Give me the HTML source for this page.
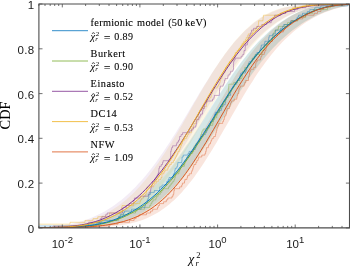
<!DOCTYPE html>
<html><head><meta charset="utf-8"><title>CDF</title><style>html,body{margin:0;padding:0;background:#fff}svg{display:block;will-change:transform}</style></head><body>
<svg width="350" height="266" viewBox="0 0 350 266">
<rect width="350" height="266" fill="#fff"/>
<clipPath id="c"><rect x="38.9" y="4.0" width="310.6" height="223.9"/></clipPath>
<g clip-path="url(#c)">
<path d="M14.1,227.9 17.0,227.9 19.8,227.8 22.7,227.8 25.5,227.8 28.4,227.8 31.2,227.8 34.1,227.8 36.9,227.7 39.8,227.7 42.6,227.7 45.5,227.6 48.3,227.6 51.1,227.5 54.0,227.5 56.8,227.4 59.6,227.3 62.4,227.2 65.3,227.1 68.1,227.0 70.9,226.9 73.7,226.7 76.5,226.5 79.3,226.3 82.2,226.1 85.0,225.8 87.8,225.5 90.6,225.2 93.4,224.8 96.1,224.4 98.9,223.9 101.7,223.4 104.5,222.8 107.3,222.2 110.1,221.5 112.8,220.7 115.6,219.9 118.4,218.9 121.1,217.9 123.9,216.8 126.6,215.6 129.4,214.3 132.1,212.9 134.9,211.4 137.6,209.8 140.3,208.1 143.1,206.2 145.8,204.2 148.5,202.1 151.2,199.9 153.9,197.5 156.6,195.0 159.3,192.4 162.0,189.6 164.7,186.7 167.4,183.6 170.0,180.5 172.7,177.2 175.4,173.7 178.0,170.2 180.6,166.5 183.3,162.7 185.9,158.8 188.5,154.8 191.2,150.7 193.8,146.6 196.4,142.4 199.0,138.1 201.5,133.7 204.1,129.3 206.7,124.9 209.3,120.4 211.8,116.0 214.4,111.5 216.9,107.0 219.5,102.6 222.0,98.2 224.6,93.8 227.1,89.5 229.6,85.3 232.2,81.2 234.7,77.1 237.2,73.1 239.8,69.2 242.3,65.4 244.8,61.7 247.4,58.2 249.9,54.7 252.5,51.4 255.0,48.3 257.5,45.2 260.0,42.3 262.6,39.5 265.1,36.9 267.6,34.4 270.0,32.0 272.5,29.8 274.9,27.7 277.3,25.7 279.6,23.8 282.0,22.1 284.2,20.5 286.5,19.0 288.7,17.6 290.8,16.3 292.9,15.1 295.0,14.0 297.0,13.0 298.9,12.0 300.8,11.2 302.6,10.4 304.4,9.7 306.1,9.1 307.8,8.5 309.4,8.0 311.0,7.5 312.5,7.1 314.0,6.7 315.5,6.4 317.0,6.1 318.4,5.8 319.8,5.6 321.1,5.4 322.5,5.2 323.8,5.0 325.1,4.9 326.5,4.8 327.8,4.7 329.1,4.6 330.4,4.5 331.7,4.4 332.9,4.4 334.2,4.3 335.5,4.3 336.8,4.2 338.0,4.2 339.3,4.2 340.6,4.1 341.8,4.1 343.1,4.1 344.3,4.1 345.6,4.1 346.8,4.1 348.1,4.0 349.3,4.0 390.5,4.0 388.8,4.0 387.1,4.1 385.5,4.1 383.8,4.1 382.1,4.1 380.4,4.1 378.7,4.1 377.0,4.2 375.4,4.2 373.7,4.2 372.0,4.3 370.3,4.3 368.6,4.4 366.9,4.4 365.2,4.5 363.5,4.6 361.8,4.7 360.1,4.8 358.4,4.9 356.6,5.0 354.9,5.2 353.1,5.4 351.4,5.6 349.6,5.8 347.8,6.1 346.0,6.4 344.2,6.7 342.3,7.1 340.4,7.5 338.4,8.0 336.5,8.5 334.4,9.1 332.4,9.7 330.2,10.4 328.1,11.2 325.8,12.0 323.6,13.0 321.2,14.0 318.9,15.1 316.5,16.3 314.0,17.6 311.5,19.0 309.0,20.5 306.4,22.1 303.8,23.8 301.1,25.7 298.5,27.7 295.8,29.8 293.1,32.0 290.4,34.4 287.7,36.9 284.9,39.5 282.2,42.3 279.5,45.2 276.7,48.3 274.0,51.4 271.3,54.7 268.6,58.2 265.9,61.7 263.2,65.4 260.5,69.2 257.8,73.1 255.2,77.1 252.6,81.2 249.9,85.3 247.3,89.5 244.7,93.8 242.1,98.2 239.5,102.6 237.0,107.0 234.4,111.5 231.8,116.0 229.3,120.4 226.7,124.9 224.2,129.3 221.6,133.7 219.1,138.1 216.6,142.4 214.1,146.6 211.6,150.7 209.0,154.8 206.5,158.8 204.0,162.7 201.5,166.5 199.0,170.2 196.5,173.7 194.1,177.2 191.6,180.5 189.1,183.6 186.6,186.7 184.1,189.6 181.7,192.4 179.2,195.0 176.8,197.5 174.3,199.9 171.8,202.1 169.4,204.2 166.9,206.2 164.5,208.1 162.0,209.8 159.6,211.4 157.1,212.9 154.7,214.3 152.3,215.6 149.8,216.8 147.4,217.9 145.0,218.9 142.5,219.9 140.1,220.7 137.7,221.5 135.2,222.2 132.8,222.8 130.4,223.4 127.9,223.9 125.5,224.4 123.1,224.8 120.7,225.2 118.2,225.5 115.8,225.8 113.4,226.1 111.0,226.3 108.6,226.5 106.1,226.7 103.7,226.9 101.3,227.0 98.9,227.1 96.5,227.2 94.0,227.3 91.6,227.4 89.2,227.5 86.8,227.5 84.4,227.6 81.9,227.6 79.5,227.7 77.1,227.7 74.7,227.7 72.3,227.8 69.8,227.8 67.4,227.8 65.0,227.8 62.6,227.8 60.1,227.8 57.7,227.9 55.3,227.9Z" fill="#D95319" fill-opacity="0.15"/>
<path d="M2.1,227.9 4.6,227.9 7.1,227.8 9.5,227.8 12.0,227.8 14.4,227.8 16.9,227.8 19.3,227.8 21.8,227.7 24.2,227.7 26.6,227.7 29.1,227.6 31.5,227.6 33.9,227.5 36.4,227.5 38.8,227.4 41.2,227.3 43.6,227.2 46.1,227.1 48.5,227.0 50.9,226.9 53.3,226.7 55.8,226.5 58.2,226.3 60.6,226.1 63.1,225.8 65.5,225.5 68.0,225.2 70.5,224.8 72.9,224.4 75.4,223.9 78.0,223.4 80.5,222.8 83.1,222.2 85.6,221.5 88.2,220.7 90.8,219.9 93.5,218.9 96.1,217.9 98.8,216.8 101.5,215.6 104.2,214.3 106.9,212.9 109.6,211.4 112.3,209.8 115.0,208.1 117.7,206.2 120.5,204.2 123.2,202.1 125.9,199.9 128.6,197.5 131.4,195.0 134.1,192.4 136.8,189.6 139.5,186.7 142.2,183.6 144.9,180.5 147.6,177.2 150.3,173.7 152.9,170.2 155.6,166.5 158.3,162.7 160.9,158.8 163.6,154.8 166.2,150.7 168.8,146.6 171.5,142.4 174.1,138.1 176.7,133.7 179.3,129.3 181.9,124.9 184.4,120.4 187.0,116.0 189.6,111.5 192.1,107.0 194.6,102.6 197.2,98.2 199.7,93.8 202.2,89.5 204.7,85.3 207.2,81.2 209.7,77.1 212.2,73.1 214.6,69.2 217.1,65.4 219.5,61.7 222.0,58.2 224.4,54.7 226.8,51.4 229.2,48.3 231.6,45.2 233.9,42.3 236.3,39.5 238.6,36.9 240.9,34.4 243.2,32.0 245.5,29.8 247.8,27.7 250.0,25.7 252.2,23.8 254.3,22.1 256.5,20.5 258.6,19.0 260.6,17.6 262.7,16.3 264.7,15.1 266.7,14.0 268.6,13.0 270.6,12.0 272.5,11.2 274.4,10.4 276.2,9.7 278.1,9.1 279.9,8.5 281.8,8.0 283.6,7.5 285.4,7.1 287.2,6.7 289.0,6.4 290.7,6.1 292.5,5.8 294.3,5.6 296.0,5.4 297.8,5.2 299.5,5.0 301.2,4.9 303.0,4.8 304.7,4.7 306.4,4.6 308.1,4.5 309.9,4.4 311.6,4.4 313.3,4.3 315.0,4.3 316.7,4.2 318.4,4.2 320.1,4.2 321.8,4.1 323.4,4.1 325.1,4.1 326.8,4.1 328.5,4.1 330.1,4.1 331.8,4.0 333.5,4.0 374.2,4.0 372.1,4.0 370.0,4.1 367.9,4.1 365.8,4.1 363.6,4.1 361.5,4.1 359.4,4.1 357.3,4.2 355.2,4.2 353.0,4.2 350.9,4.3 348.8,4.3 346.7,4.4 344.5,4.4 342.4,4.5 340.3,4.6 338.1,4.7 336.0,4.8 333.9,4.9 331.7,5.0 329.6,5.2 327.4,5.4 325.3,5.6 323.1,5.8 321.0,6.1 318.8,6.4 316.6,6.7 314.5,7.1 312.3,7.5 310.1,8.0 307.9,8.5 305.7,9.1 303.5,9.7 301.3,10.4 299.0,11.2 296.8,12.0 294.5,13.0 292.2,14.0 289.9,15.1 287.5,16.3 285.2,17.6 282.8,19.0 280.4,20.5 277.9,22.1 275.5,23.8 273.0,25.7 270.5,27.7 268.0,29.8 265.4,32.0 262.9,34.4 260.3,36.9 257.8,39.5 255.2,42.3 252.6,45.2 250.0,48.3 247.4,51.4 244.8,54.7 242.2,58.2 239.6,61.7 237.0,65.4 234.4,69.2 231.8,73.1 229.2,77.1 226.6,81.2 224.0,85.3 221.4,89.5 218.9,93.8 216.3,98.2 213.7,102.6 211.1,107.0 208.6,111.5 206.0,116.0 203.4,120.4 200.9,124.9 198.3,129.3 195.8,133.7 193.2,138.1 190.7,142.4 188.2,146.6 185.6,150.7 183.1,154.8 180.6,158.8 178.1,162.7 175.5,166.5 173.0,170.2 170.5,173.7 168.0,177.2 165.5,180.5 163.0,183.6 160.5,186.7 158.0,189.6 155.6,192.4 153.1,195.0 150.6,197.5 148.1,199.9 145.7,202.1 143.2,204.2 140.8,206.2 138.3,208.1 135.9,209.8 133.5,211.4 131.1,212.9 128.7,214.3 126.3,215.6 124.0,216.8 121.6,217.9 119.3,218.9 117.0,219.9 114.8,220.7 112.5,221.5 110.3,222.2 108.1,222.8 105.9,223.4 103.8,223.9 101.7,224.4 99.5,224.8 97.5,225.2 95.4,225.5 93.3,225.8 91.3,226.1 89.2,226.3 87.2,226.5 85.2,226.7 83.1,226.9 81.1,227.0 79.1,227.1 77.1,227.2 75.1,227.3 73.1,227.4 71.1,227.5 69.0,227.5 67.0,227.6 65.0,227.6 63.0,227.7 61.0,227.7 59.0,227.7 57.0,227.8 55.0,227.8 52.9,227.8 50.9,227.8 48.9,227.8 46.9,227.8 44.9,227.9 42.8,227.9Z" fill="#EDB120" fill-opacity="0.12"/>
<path d="M-5.5,227.9 -2.9,227.9 -0.2,227.8 2.4,227.8 5.1,227.8 7.7,227.8 10.3,227.8 12.9,227.8 15.5,227.7 18.1,227.7 20.7,227.7 23.2,227.6 25.8,227.6 28.4,227.5 30.9,227.5 33.4,227.4 36.0,227.3 38.5,227.2 41.0,227.1 43.5,227.0 46.0,226.9 48.5,226.7 51.0,226.5 53.5,226.3 55.9,226.1 58.4,225.8 60.9,225.5 63.3,225.2 65.8,224.8 68.3,224.4 70.8,223.9 73.2,223.4 75.7,222.8 78.2,222.2 80.8,221.5 83.3,220.7 85.8,219.9 88.4,218.9 91.0,217.9 93.7,216.8 96.3,215.6 99.0,214.3 101.7,212.9 104.5,211.4 107.3,209.8 110.1,208.1 112.9,206.2 115.7,204.2 118.6,202.1 121.4,199.9 124.3,197.5 127.1,195.0 130.0,192.4 132.9,189.6 135.8,186.7 138.6,183.6 141.5,180.5 144.3,177.2 147.2,173.7 150.0,170.2 152.9,166.5 155.7,162.7 158.5,158.8 161.3,154.8 164.1,150.7 166.8,146.6 169.6,142.4 172.3,138.1 175.1,133.7 177.8,129.3 180.5,124.9 183.2,120.4 185.9,116.0 188.6,111.5 191.2,107.0 193.9,102.6 196.5,98.2 199.1,93.8 201.7,89.5 204.3,85.3 206.9,81.2 209.5,77.1 212.0,73.1 214.5,69.2 217.1,65.4 219.6,61.7 222.1,58.2 224.5,54.7 227.0,51.4 229.4,48.3 231.9,45.2 234.3,42.3 236.7,39.5 239.1,36.9 241.4,34.4 243.7,32.0 246.1,29.8 248.4,27.7 250.6,25.7 252.9,23.8 255.1,22.1 257.3,20.5 259.5,19.0 261.6,17.6 263.7,16.3 265.8,15.1 267.9,14.0 269.9,13.0 271.9,12.0 273.9,11.2 275.9,10.4 277.9,9.7 279.8,9.1 281.7,8.5 283.6,8.0 285.5,7.5 287.4,7.1 289.3,6.7 291.1,6.4 293.0,6.1 294.8,5.8 296.6,5.6 298.4,5.4 300.2,5.2 302.0,5.0 303.8,4.9 305.6,4.8 307.3,4.7 309.1,4.6 310.8,4.5 312.6,4.4 314.3,4.4 316.0,4.3 317.7,4.3 319.4,4.2 321.1,4.2 322.7,4.2 324.4,4.1 326.1,4.1 327.7,4.1 329.3,4.1 331.0,4.1 332.6,4.1 334.2,4.0 335.8,4.0 375.8,4.0 373.8,4.0 371.7,4.1 369.7,4.1 367.6,4.1 365.5,4.1 363.4,4.1 361.3,4.1 359.2,4.2 357.1,4.2 355.0,4.2 352.8,4.3 350.7,4.3 348.6,4.4 346.4,4.4 344.2,4.5 342.1,4.6 339.9,4.7 337.7,4.8 335.5,4.9 333.3,5.0 331.1,5.2 328.9,5.4 326.7,5.6 324.4,5.8 322.2,6.1 319.9,6.4 317.7,6.7 315.4,7.1 313.1,7.5 310.8,8.0 308.5,8.5 306.2,9.1 303.9,9.7 301.6,10.4 299.2,11.2 296.8,12.0 294.4,13.0 292.0,14.0 289.6,15.1 287.2,16.3 284.7,17.6 282.2,19.0 279.7,20.5 277.2,22.1 274.6,23.8 272.0,25.7 269.4,27.7 266.8,29.8 264.2,32.0 261.6,34.4 258.9,36.9 256.3,39.5 253.6,42.3 250.9,45.2 248.3,48.3 245.6,51.4 242.9,54.7 240.2,58.2 237.5,61.7 234.8,65.4 232.1,69.2 229.4,73.1 226.7,77.1 224.0,81.2 221.2,85.3 218.5,89.5 215.8,93.8 213.2,98.2 210.5,102.6 207.8,107.0 205.1,111.5 202.4,116.0 199.7,120.4 197.1,124.9 194.4,129.3 191.7,133.7 189.1,138.1 186.4,142.4 183.8,146.6 181.1,150.7 178.5,154.8 175.8,158.8 173.2,162.7 170.6,166.5 167.9,170.2 165.3,173.7 162.7,177.2 160.1,180.5 157.4,183.6 154.8,186.7 152.2,189.6 149.6,192.4 147.0,195.0 144.5,197.5 141.9,199.9 139.3,202.1 136.8,204.2 134.3,206.2 131.8,208.1 129.3,209.8 126.9,211.4 124.5,212.9 122.1,214.3 119.8,215.6 117.5,216.8 115.2,217.9 113.0,218.9 110.7,219.9 108.6,220.7 106.4,221.5 104.3,222.2 102.2,222.8 100.1,223.4 98.0,223.9 95.9,224.4 93.8,224.8 91.7,225.2 89.7,225.5 87.6,225.8 85.6,226.1 83.5,226.3 81.4,226.5 79.4,226.7 77.3,226.9 75.2,227.0 73.1,227.1 71.0,227.2 69.0,227.3 66.9,227.4 64.7,227.5 62.6,227.5 60.5,227.6 58.4,227.6 56.3,227.7 54.1,227.7 52.0,227.7 49.8,227.8 47.7,227.8 45.5,227.8 43.3,227.8 41.1,227.8 38.9,227.8 36.7,227.9 34.5,227.9Z" fill="#7E2F8E" fill-opacity="0.09"/>
<path d="M10.8,227.9 13.4,227.9 16.1,227.8 18.7,227.8 21.3,227.8 23.9,227.8 26.5,227.8 29.1,227.8 31.7,227.7 34.3,227.7 36.9,227.7 39.4,227.6 42.0,227.6 44.6,227.5 47.1,227.5 49.7,227.4 52.2,227.3 54.8,227.2 57.3,227.1 59.9,227.0 62.4,226.9 64.9,226.7 67.5,226.5 70.0,226.3 72.5,226.1 75.1,225.8 77.6,225.5 80.1,225.2 82.7,224.8 85.2,224.4 87.8,223.9 90.4,223.4 92.9,222.8 95.6,222.2 98.2,221.5 100.8,220.7 103.5,219.9 106.2,218.9 108.9,217.9 111.7,216.8 114.5,215.6 117.3,214.3 120.1,212.9 123.0,211.4 125.9,209.8 128.8,208.1 131.7,206.2 134.6,204.2 137.5,202.1 140.4,199.9 143.4,197.5 146.3,195.0 149.2,192.4 152.2,189.6 155.1,186.7 158.0,183.6 160.9,180.5 163.9,177.2 166.8,173.7 169.7,170.2 172.5,166.5 175.4,162.7 178.3,158.8 181.2,154.8 184.0,150.7 186.8,146.6 189.7,142.4 192.5,138.1 195.3,133.7 198.1,129.3 200.9,124.9 203.7,120.4 206.4,116.0 209.2,111.5 212.0,107.0 214.7,102.6 217.4,98.2 220.2,93.8 222.9,89.5 225.6,85.3 228.3,81.2 231.0,77.1 233.8,73.1 236.5,69.2 239.2,65.4 241.9,61.7 244.6,58.2 247.3,54.7 250.0,51.4 252.7,48.3 255.4,45.2 258.1,42.3 260.8,39.5 263.4,36.9 266.1,34.4 268.7,32.0 271.3,29.8 273.8,27.7 276.3,25.7 278.8,23.8 281.2,22.1 283.6,20.5 285.9,19.0 288.2,17.6 290.4,16.3 292.5,15.1 294.6,14.0 296.6,13.0 298.6,12.0 300.5,11.2 302.3,10.4 304.1,9.7 305.8,9.1 307.4,8.5 309.0,8.0 310.5,7.5 312.0,7.1 313.5,6.7 314.9,6.4 316.3,6.1 317.6,5.8 318.9,5.6 320.2,5.4 321.5,5.2 322.7,5.0 324.0,4.9 325.2,4.8 326.4,4.7 327.6,4.6 328.8,4.5 330.0,4.4 331.1,4.4 332.3,4.3 333.5,4.3 334.6,4.2 335.8,4.2 336.9,4.2 338.0,4.1 339.1,4.1 340.2,4.1 341.4,4.1 342.5,4.1 343.6,4.1 344.6,4.0 345.7,4.0 386.2,4.0 384.7,4.0 383.1,4.1 381.6,4.1 380.1,4.1 378.5,4.1 377.0,4.1 375.4,4.1 373.9,4.2 372.3,4.2 370.7,4.2 369.1,4.3 367.6,4.3 366.0,4.4 364.4,4.4 362.8,4.5 361.2,4.6 359.5,4.7 357.9,4.8 356.3,4.9 354.6,5.0 353.0,5.2 351.3,5.4 349.6,5.6 347.9,5.8 346.2,6.1 344.4,6.4 342.6,6.7 340.8,7.1 338.9,7.5 337.0,8.0 335.0,8.5 333.0,9.1 331.0,9.7 328.8,10.4 326.6,11.2 324.4,12.0 322.1,13.0 319.7,14.0 317.3,15.1 314.8,16.3 312.3,17.6 309.7,19.0 307.1,20.5 304.4,22.1 301.7,23.8 298.9,25.7 296.2,27.7 293.3,29.8 290.5,32.0 287.6,34.4 284.7,36.9 281.8,39.5 278.9,42.3 276.0,45.2 273.1,48.3 270.2,51.4 267.3,54.7 264.4,58.2 261.5,61.7 258.6,65.4 255.8,69.2 252.9,73.1 250.1,77.1 247.3,81.2 244.4,85.3 241.6,89.5 238.8,93.8 236.0,98.2 233.3,102.6 230.5,107.0 227.7,111.5 224.9,116.0 222.2,120.4 219.4,124.9 216.7,129.3 213.9,133.7 211.2,138.1 208.4,142.4 205.7,146.6 202.9,150.7 200.2,154.8 197.5,158.8 194.7,162.7 192.0,166.5 189.3,170.2 186.5,173.7 183.8,177.2 181.1,180.5 178.4,183.6 175.7,186.7 173.0,189.6 170.3,192.4 167.6,195.0 164.9,197.5 162.2,199.9 159.5,202.1 156.9,204.2 154.3,206.2 151.7,208.1 149.1,209.8 146.5,211.4 143.9,212.9 141.4,214.3 138.9,215.6 136.5,216.8 134.1,217.9 131.7,218.9 129.3,219.9 127.0,220.7 124.7,221.5 122.4,222.2 120.2,222.8 118.0,223.4 115.8,223.9 113.6,224.4 111.4,224.8 109.3,225.2 107.1,225.5 105.0,225.8 102.8,226.1 100.7,226.3 98.6,226.5 96.4,226.7 94.3,226.9 92.2,227.0 90.1,227.1 87.9,227.2 85.8,227.3 83.7,227.4 81.5,227.5 79.4,227.5 77.3,227.6 75.1,227.6 73.0,227.7 70.8,227.7 68.7,227.7 66.5,227.8 64.3,227.8 62.2,227.8 60.0,227.8 57.8,227.8 55.7,227.8 53.5,227.9 51.3,227.9Z" fill="#77AC30" fill-opacity="0.09"/>
<path d="M8.3,227.9 11.0,227.9 13.6,227.8 16.2,227.8 18.9,227.8 21.5,227.8 24.1,227.8 26.7,227.8 29.3,227.7 31.9,227.7 34.5,227.7 37.0,227.6 39.6,227.6 42.2,227.5 44.7,227.5 47.3,227.4 49.8,227.3 52.4,227.2 54.9,227.1 57.4,227.0 60.0,226.9 62.5,226.7 65.0,226.5 67.6,226.3 70.1,226.1 72.6,225.8 75.1,225.5 77.7,225.2 80.2,224.8 82.8,224.4 85.3,223.9 87.9,223.4 90.5,222.8 93.1,222.2 95.7,221.5 98.4,220.7 101.1,219.9 103.8,218.9 106.6,217.9 109.3,216.8 112.1,215.6 115.0,214.3 117.9,212.9 120.8,211.4 123.7,209.8 126.6,208.1 129.6,206.2 132.5,204.2 135.5,202.1 138.5,199.9 141.5,197.5 144.5,195.0 147.5,192.4 150.4,189.6 153.4,186.7 156.4,183.6 159.4,180.5 162.3,177.2 165.3,173.7 168.3,170.2 171.2,166.5 174.1,162.7 177.0,158.8 180.0,154.8 182.9,150.7 185.7,146.6 188.6,142.4 191.5,138.1 194.3,133.7 197.2,129.3 200.0,124.9 202.8,120.4 205.6,116.0 208.4,111.5 211.2,107.0 214.0,102.6 216.8,98.2 219.6,93.8 222.3,89.5 225.1,85.3 227.8,81.2 230.6,77.1 233.3,73.1 236.1,69.2 238.8,65.4 241.5,61.7 244.3,58.2 247.0,54.7 249.7,51.4 252.5,48.3 255.2,45.2 257.9,42.3 260.6,39.5 263.3,36.9 265.9,34.4 268.6,32.0 271.2,29.8 273.7,27.7 276.2,25.7 278.7,23.8 281.2,22.1 283.5,20.5 285.9,19.0 288.1,17.6 290.4,16.3 292.5,15.1 294.6,14.0 296.6,13.0 298.6,12.0 300.5,11.2 302.3,10.4 304.1,9.7 305.8,9.1 307.4,8.5 309.0,8.0 310.5,7.5 312.0,7.1 313.5,6.7 314.9,6.4 316.2,6.1 317.6,5.8 318.9,5.6 320.1,5.4 321.4,5.2 322.7,5.0 323.9,4.9 325.1,4.8 326.3,4.7 327.5,4.6 328.6,4.5 329.8,4.4 331.0,4.4 332.1,4.3 333.2,4.3 334.4,4.2 335.5,4.2 336.6,4.2 337.7,4.1 338.8,4.1 339.9,4.1 341.0,4.1 342.0,4.1 343.1,4.1 344.2,4.0 345.2,4.0 385.7,4.0 384.2,4.0 382.7,4.1 381.2,4.1 379.7,4.1 378.2,4.1 376.6,4.1 375.1,4.1 373.6,4.2 372.0,4.2 370.5,4.2 368.9,4.3 367.4,4.3 365.8,4.4 364.2,4.4 362.6,4.5 361.0,4.6 359.4,4.7 357.8,4.8 356.2,4.9 354.6,5.0 352.9,5.2 351.3,5.4 349.6,5.6 347.9,5.8 346.1,6.1 344.4,6.4 342.6,6.7 340.8,7.1 338.9,7.5 337.0,8.0 335.0,8.5 333.0,9.1 331.0,9.7 328.8,10.4 326.6,11.2 324.4,12.0 322.1,13.0 319.7,14.0 317.3,15.1 314.8,16.3 312.3,17.6 309.7,19.0 307.0,20.5 304.4,22.1 301.6,23.8 298.9,25.7 296.0,27.7 293.2,29.8 290.3,32.0 287.4,34.4 284.5,36.9 281.6,39.5 278.7,42.3 275.8,45.2 272.8,48.3 269.9,51.4 267.0,54.7 264.1,58.2 261.1,61.7 258.2,65.4 255.4,69.2 252.5,73.1 249.6,77.1 246.7,81.2 243.9,85.3 241.1,89.5 238.2,93.8 235.4,98.2 232.6,102.6 229.8,107.0 226.9,111.5 224.1,116.0 221.3,120.4 218.5,124.9 215.7,129.3 212.9,133.7 210.2,138.1 207.4,142.4 204.6,146.6 201.8,150.7 199.0,154.8 196.2,158.8 193.4,162.7 190.6,166.5 187.9,170.2 185.1,173.7 182.3,177.2 179.5,180.5 176.8,183.6 174.0,186.7 171.2,189.6 168.5,192.4 165.7,195.0 163.0,197.5 160.3,199.9 157.6,202.1 154.9,204.2 152.2,206.2 149.5,208.1 146.9,209.8 144.3,211.4 141.7,212.9 139.1,214.3 136.6,215.6 134.1,216.8 131.7,217.9 129.3,218.9 126.9,219.9 124.6,220.7 122.2,221.5 120.0,222.2 117.7,222.8 115.5,223.4 113.3,223.9 111.1,224.4 109.0,224.8 106.8,225.2 104.7,225.5 102.5,225.8 100.4,226.1 98.3,226.3 96.1,226.5 94.0,226.7 91.9,226.9 89.8,227.0 87.6,227.1 85.5,227.2 83.4,227.3 81.3,227.4 79.1,227.5 77.0,227.5 74.9,227.6 72.7,227.6 70.6,227.7 68.4,227.7 66.3,227.7 64.1,227.8 61.9,227.8 59.8,227.8 57.6,227.8 55.4,227.8 53.2,227.8 51.0,227.9 48.8,227.9Z" fill="#0072BD" fill-opacity="0.12"/>
<path d="M38.9,227.9 53.0,227.9 53.0,226.0 110.0,226.0 110.0,224.2 118.0,224.2 118.0,222.3 129.5,222.3 129.5,220.4 134.1,220.4 134.1,218.6 136.1,218.6 136.1,216.7 139.0,216.7 139.0,214.8 146.4,214.8 146.4,213.0 150.6,213.0 150.6,211.1 152.7,211.1 152.7,209.2 157.5,209.2 157.5,207.4 158.3,207.4 158.3,205.5 159.5,205.5 159.5,203.6 163.6,203.6 163.6,201.8 166.3,201.8 166.3,199.9 167.8,199.9 167.8,198.0 172.0,198.0 172.0,196.2 173.1,196.2 173.1,194.3 173.8,194.3 173.8,192.4 173.9,192.4 173.9,190.6 174.4,190.6 174.4,188.7 179.6,188.7 179.6,186.9 181.7,186.9 181.7,185.0 182.4,185.0 182.4,183.1 184.5,183.1 184.5,181.3 184.9,181.3 184.9,179.4 187.0,179.4 187.0,177.5 187.5,177.5 187.5,175.7 189.2,175.7 189.2,173.8 191.4,173.8 191.4,171.9 192.0,171.9 192.0,170.1 192.8,170.1 192.8,168.2 193.3,168.2 193.3,166.3 194.0,166.3 194.0,164.5 195.8,164.5 195.8,162.6 196.7,162.6 196.7,160.7 198.0,160.7 198.0,158.9 198.7,158.9 198.7,157.0 201.8,157.0 201.8,155.1 205.0,155.1 205.0,153.3 205.7,153.3 205.7,151.4 206.2,151.4 206.2,149.5 206.4,149.5 206.4,147.7 208.3,147.7 208.3,145.8 209.0,145.8 209.0,143.9 210.5,143.9 210.5,142.1 211.1,142.1 211.1,140.2 212.0,140.2 212.0,138.3 213.7,138.3 213.7,136.5 215.4,136.5 215.4,134.6 215.8,134.6 215.8,132.7 216.3,132.7 216.3,130.9 216.8,130.9 216.8,129.0 217.2,129.0 217.2,127.1 218.1,127.1 218.1,125.3 218.8,125.3 218.8,123.4 222.7,123.4 222.7,121.5 223.5,121.5 223.5,119.7 224.3,119.7 224.3,117.8 224.6,117.8 224.6,116.0 225.8,116.0 225.8,114.1 226.5,114.1 226.5,112.2 226.8,112.2 226.8,110.4 227.1,110.4 227.1,108.5 229.4,108.5 229.4,106.6 230.1,106.6 230.1,104.8 230.5,104.8 230.5,102.9 231.4,102.9 231.4,101.0 234.2,101.0 234.2,99.2 236.8,99.2 236.8,97.3 237.2,97.3 237.2,95.4 237.7,95.4 237.7,93.6 238.7,93.6 238.7,91.7 238.8,91.7 238.8,89.8 239.2,89.8 239.2,88.0 240.2,88.0 240.2,86.1 244.1,86.1 244.1,84.2 244.8,84.2 244.8,82.4 245.7,82.4 245.7,80.5 248.5,80.5 248.5,78.6 248.5,78.6 248.5,76.8 249.2,76.8 249.2,74.9 249.5,74.9 249.5,73.0 249.8,73.0 249.8,71.2 250.7,71.2 250.7,69.3 253.8,69.3 253.8,67.4 255.6,67.4 255.6,65.6 255.7,65.6 255.7,63.7 256.0,63.7 256.0,61.8 257.2,61.8 257.2,60.0 260.6,60.0 260.6,58.1 261.0,58.1 261.0,56.2 262.0,56.2 262.0,54.4 264.3,54.4 264.3,52.5 264.9,52.5 264.9,50.6 265.9,50.6 265.9,48.8 266.1,48.8 266.1,46.9 266.4,46.9 266.4,45.0 266.8,45.0 266.8,43.2 269.8,43.2 269.8,41.3 272.4,41.3 272.4,39.5 272.7,39.5 272.7,37.6 274.7,37.6 274.7,35.7 277.4,35.7 277.4,33.9 279.9,33.9 279.9,32.0 283.4,32.0 283.4,30.1 284.5,30.1 284.5,28.3 285.0,28.3 285.0,26.4 287.5,26.4 287.5,24.5 290.8,24.5 290.8,22.7 291.0,22.7 291.0,20.8 297.6,20.8 297.6,18.9 302.8,18.9 302.8,17.1 305.8,17.1 305.8,15.2 314.1,15.2 314.1,13.3 317.5,13.3 317.5,11.5 320.9,11.5 320.9,9.6 323.4,9.6 323.4,7.7 326.6,7.7 326.6,5.9 332.5,5.9 332.5,4.0 349.5,4.0" fill="none" stroke="#D95319" stroke-opacity="0.6" stroke-width="0.65"/>
<path d="M38.9,227.9 30.0,227.9 30.0,226.0 30.0,226.0 30.0,224.2 70.0,224.2 70.0,222.3 85.0,222.3 85.0,220.4 93.0,220.4 93.0,218.6 97.8,218.6 97.8,216.7 109.5,216.7 109.5,214.8 109.6,214.8 109.6,213.0 119.7,213.0 119.7,211.1 121.3,211.1 121.3,209.2 121.5,209.2 121.5,207.4 122.1,207.4 122.1,205.5 133.5,205.5 133.5,203.6 139.9,203.6 139.9,201.8 140.4,201.8 140.4,199.9 141.6,199.9 141.6,198.0 143.5,198.0 143.5,196.2 145.2,196.2 145.2,194.3 146.2,194.3 146.2,192.4 146.7,192.4 146.7,190.6 146.8,190.6 146.8,188.7 147.0,188.7 147.0,186.9 153.6,186.9 153.6,185.0 154.7,185.0 154.7,183.1 156.4,183.1 156.4,181.3 158.4,181.3 158.4,179.4 160.9,179.4 160.9,177.5 161.9,177.5 161.9,175.7 161.9,175.7 161.9,173.8 163.9,173.8 163.9,171.9 164.9,171.9 164.9,170.1 167.8,170.1 167.8,168.2 168.3,168.2 168.3,166.3 169.7,166.3 169.7,164.5 171.3,164.5 171.3,162.6 173.4,162.6 173.4,160.7 174.6,160.7 174.6,158.9 175.4,158.9 175.4,157.0 176.4,157.0 176.4,155.1 177.3,155.1 177.3,153.3 178.0,153.3 178.0,151.4 179.3,151.4 179.3,149.5 180.1,149.5 180.1,147.7 180.8,147.7 180.8,145.8 181.5,145.8 181.5,143.9 182.4,143.9 182.4,142.1 182.8,142.1 182.8,140.2 184.7,140.2 184.7,138.3 186.7,138.3 186.7,136.5 187.5,136.5 187.5,134.6 188.8,134.6 188.8,132.7 191.3,132.7 191.3,130.9 191.4,130.9 191.4,129.0 192.1,129.0 192.1,127.1 193.6,127.1 193.6,125.3 194.1,125.3 194.1,123.4 195.9,123.4 195.9,121.5 196.3,121.5 196.3,119.7 198.1,119.7 198.1,117.8 198.3,117.8 198.3,116.0 198.4,116.0 198.4,114.1 198.6,114.1 198.6,112.2 199.6,112.2 199.6,110.4 201.4,110.4 201.4,108.5 203.6,108.5 203.6,106.6 206.3,106.6 206.3,104.8 206.5,104.8 206.5,102.9 207.1,102.9 207.1,101.0 207.2,101.0 207.2,99.2 209.8,99.2 209.8,97.3 211.2,97.3 211.2,95.4 211.3,95.4 211.3,93.6 212.3,93.6 212.3,91.7 212.8,91.7 212.8,89.8 214.0,89.8 214.0,88.0 217.2,88.0 217.2,86.1 218.6,86.1 218.6,84.2 219.6,84.2 219.6,82.4 220.2,82.4 220.2,80.5 220.6,80.5 220.6,78.6 222.0,78.6 222.0,76.8 222.3,76.8 222.3,74.9 222.6,74.9 222.6,73.0 224.8,73.0 224.8,71.2 224.9,71.2 224.9,69.3 225.7,69.3 225.7,67.4 227.1,67.4 227.1,65.6 229.2,65.6 229.2,63.7 229.3,63.7 229.3,61.8 232.0,61.8 232.0,60.0 233.4,60.0 233.4,58.1 234.7,58.1 234.7,56.2 235.0,56.2 235.0,54.4 235.3,54.4 235.3,52.5 237.0,52.5 237.0,50.6 238.7,50.6 238.7,48.8 240.1,48.8 240.1,46.9 241.2,46.9 241.2,45.0 242.2,45.0 242.2,43.2 243.7,43.2 243.7,41.3 245.4,41.3 245.4,39.5 246.2,39.5 246.2,37.6 247.4,37.6 247.4,35.7 248.3,35.7 248.3,33.9 252.4,33.9 252.4,32.0 253.2,32.0 253.2,30.1 255.4,30.1 255.4,28.3 256.7,28.3 256.7,26.4 258.4,26.4 258.4,24.5 258.5,24.5 258.5,22.7 258.6,22.7 258.6,20.8 263.0,20.8 263.0,18.9 263.1,18.9 263.1,17.1 263.4,17.1 263.4,15.2 280.8,15.2 280.8,13.3 285.8,13.3 285.8,11.5 290.6,11.5 290.6,9.6 292.7,9.6 292.7,7.7 302.7,7.7 302.7,5.9 306.4,5.9 306.4,4.0 349.5,4.0" fill="none" stroke="#EDB120" stroke-opacity="0.6" stroke-width="0.65"/>
<path d="M38.9,227.9 88.0,227.9 88.0,226.0 88.3,226.0 88.3,224.2 88.6,224.2 88.6,222.3 100.0,222.3 100.0,220.4 100.4,220.4 100.4,218.6 101.8,218.6 101.8,216.7 105.6,216.7 105.6,214.8 107.2,214.8 107.2,213.0 122.5,213.0 122.5,211.1 122.6,211.1 122.6,209.2 123.0,209.2 123.0,207.4 126.5,207.4 126.5,205.5 129.3,205.5 129.3,203.6 133.7,203.6 133.7,201.8 133.9,201.8 133.9,199.9 134.4,199.9 134.4,198.0 140.2,198.0 140.2,196.2 148.3,196.2 148.3,194.3 149.3,194.3 149.3,192.4 150.4,192.4 150.4,190.6 150.7,190.6 150.7,188.7 151.1,188.7 151.1,186.9 152.0,186.9 152.0,185.0 152.3,185.0 152.3,183.1 152.7,183.1 152.7,181.3 154.7,181.3 154.7,179.4 155.9,179.4 155.9,177.5 156.8,177.5 156.8,175.7 157.7,175.7 157.7,173.8 158.5,173.8 158.5,171.9 158.8,171.9 158.8,170.1 158.9,170.1 158.9,168.2 159.6,168.2 159.6,166.3 161.3,166.3 161.3,164.5 162.5,164.5 162.5,162.6 163.1,162.6 163.1,160.7 169.2,160.7 169.2,158.9 170.6,158.9 170.6,157.0 170.7,157.0 170.7,155.1 170.7,155.1 170.7,153.3 170.7,153.3 170.7,151.4 171.2,151.4 171.2,149.5 171.6,149.5 171.6,147.7 172.6,147.7 172.6,145.8 176.4,145.8 176.4,143.9 177.1,143.9 177.1,142.1 178.5,142.1 178.5,140.2 179.5,140.2 179.5,138.3 179.6,138.3 179.6,136.5 181.1,136.5 181.1,134.6 182.6,134.6 182.6,132.7 189.3,132.7 189.3,130.9 192.0,130.9 192.0,129.0 193.5,129.0 193.5,127.1 195.8,127.1 195.8,125.3 196.2,125.3 196.2,123.4 196.6,123.4 196.6,121.5 196.8,121.5 196.8,119.7 198.8,119.7 198.8,117.8 199.8,117.8 199.8,116.0 200.7,116.0 200.7,114.1 202.5,114.1 202.5,112.2 202.7,112.2 202.7,110.4 203.1,110.4 203.1,108.5 204.4,108.5 204.4,106.6 204.6,106.6 204.6,104.8 204.8,104.8 204.8,102.9 206.4,102.9 206.4,101.0 212.5,101.0 212.5,99.2 213.9,99.2 213.9,97.3 214.4,97.3 214.4,95.4 219.3,95.4 219.3,93.6 219.5,93.6 219.5,91.7 219.5,91.7 219.5,89.8 219.7,89.8 219.7,88.0 220.3,88.0 220.3,86.1 223.2,86.1 223.2,84.2 224.0,84.2 224.0,82.4 224.5,82.4 224.5,80.5 225.1,80.5 225.1,78.6 227.7,78.6 227.7,76.8 228.1,76.8 228.1,74.9 229.9,74.9 229.9,73.0 230.7,73.0 230.7,71.2 233.0,71.2 233.0,69.3 233.5,69.3 233.5,67.4 233.5,67.4 233.5,65.6 233.5,65.6 233.5,63.7 233.6,63.7 233.6,61.8 234.0,61.8 234.0,60.0 235.1,60.0 235.1,58.1 241.2,58.1 241.2,56.2 242.8,56.2 242.8,54.4 244.0,54.4 244.0,52.5 244.0,52.5 244.0,50.6 245.2,50.6 245.2,48.8 245.2,48.8 245.2,46.9 245.4,46.9 245.4,45.0 247.3,45.0 247.3,43.2 247.8,43.2 247.8,41.3 248.0,41.3 248.0,39.5 248.2,39.5 248.2,37.6 249.1,37.6 249.1,35.7 250.1,35.7 250.1,33.9 251.0,33.9 251.0,32.0 251.5,32.0 251.5,30.1 253.6,30.1 253.6,28.3 257.0,28.3 257.0,26.4 261.8,26.4 261.8,24.5 266.6,24.5 266.6,22.7 271.2,22.7 271.2,20.8 272.2,20.8 272.2,18.9 273.7,18.9 273.7,17.1 274.6,17.1 274.6,15.2 280.4,15.2 280.4,13.3 285.7,13.3 285.7,11.5 294.6,11.5 294.6,9.6 297.7,9.6 297.7,7.7 306.0,7.7 306.0,5.9 309.3,5.9 309.3,4.0 349.5,4.0" fill="none" stroke="#7E2F8E" stroke-opacity="0.6" stroke-width="0.65"/>
<path d="M38.9,227.9 87.6,227.9 87.6,226.0 96.4,226.0 96.4,224.2 98.7,224.2 98.7,222.3 109.6,222.3 109.6,220.4 118.6,220.4 118.6,218.6 118.7,218.6 118.7,216.7 120.7,216.7 120.7,214.8 128.3,214.8 128.3,213.0 135.5,213.0 135.5,211.1 137.1,211.1 137.1,209.2 144.6,209.2 144.6,207.4 149.7,207.4 149.7,205.5 150.8,205.5 150.8,203.6 151.8,203.6 151.8,201.8 153.0,201.8 153.0,199.9 155.9,199.9 155.9,198.0 156.7,198.0 156.7,196.2 158.2,196.2 158.2,194.3 160.3,194.3 160.3,192.4 161.7,192.4 161.7,190.6 163.0,190.6 163.0,188.7 168.5,188.7 168.5,186.9 169.9,186.9 169.9,185.0 171.2,185.0 171.2,183.1 172.8,183.1 172.8,181.3 174.1,181.3 174.1,179.4 174.8,179.4 174.8,177.5 175.3,177.5 175.3,175.7 175.8,175.7 175.8,173.8 178.8,173.8 178.8,171.9 179.4,171.9 179.4,170.1 180.3,170.1 180.3,168.2 181.0,168.2 181.0,166.3 184.4,166.3 184.4,164.5 184.8,164.5 184.8,162.6 185.0,162.6 185.0,160.7 186.5,160.7 186.5,158.9 186.9,158.9 186.9,157.0 189.2,157.0 189.2,155.1 189.8,155.1 189.8,153.3 192.7,153.3 192.7,151.4 193.6,151.4 193.6,149.5 193.8,149.5 193.8,147.7 194.2,147.7 194.2,145.8 195.7,145.8 195.7,143.9 197.1,143.9 197.1,142.1 199.5,142.1 199.5,140.2 200.4,140.2 200.4,138.3 200.5,138.3 200.5,136.5 200.7,136.5 200.7,134.6 201.5,134.6 201.5,132.7 202.0,132.7 202.0,130.9 203.1,130.9 203.1,129.0 208.7,129.0 208.7,127.1 209.4,127.1 209.4,125.3 212.8,125.3 212.8,123.4 213.0,123.4 213.0,121.5 213.5,121.5 213.5,119.7 214.6,119.7 214.6,117.8 216.7,117.8 216.7,116.0 217.0,116.0 217.0,114.1 218.0,114.1 218.0,112.2 219.6,112.2 219.6,110.4 219.8,110.4 219.8,108.5 220.1,108.5 220.1,106.6 222.3,106.6 222.3,104.8 222.8,104.8 222.8,102.9 223.9,102.9 223.9,101.0 225.4,101.0 225.4,99.2 226.6,99.2 226.6,97.3 227.9,97.3 227.9,95.4 228.3,95.4 228.3,93.6 228.5,93.6 228.5,91.7 228.6,91.7 228.6,89.8 228.6,89.8 228.6,88.0 228.7,88.0 228.7,86.1 228.8,86.1 228.8,84.2 233.8,84.2 233.8,82.4 237.4,82.4 237.4,80.5 239.0,80.5 239.0,78.6 241.9,78.6 241.9,76.8 242.2,76.8 242.2,74.9 242.5,74.9 242.5,73.0 242.7,73.0 242.7,71.2 244.7,71.2 244.7,69.3 244.8,69.3 244.8,67.4 247.4,67.4 247.4,65.6 248.1,65.6 248.1,63.7 250.5,63.7 250.5,61.8 252.0,61.8 252.0,60.0 252.1,60.0 252.1,58.1 254.0,58.1 254.0,56.2 255.2,56.2 255.2,54.4 262.0,54.4 262.0,52.5 262.1,52.5 262.1,50.6 263.6,50.6 263.6,48.8 264.4,48.8 264.4,46.9 264.8,46.9 264.8,45.0 267.5,45.0 267.5,43.2 268.2,43.2 268.2,41.3 271.5,41.3 271.5,39.5 272.5,39.5 272.5,37.6 272.8,37.6 272.8,35.7 273.2,35.7 273.2,33.9 274.0,33.9 274.0,32.0 275.0,32.0 275.0,30.1 278.0,30.1 278.0,28.3 278.5,28.3 278.5,26.4 284.5,26.4 284.5,24.5 287.5,24.5 287.5,22.7 292.0,22.7 292.0,20.8 297.9,20.8 297.9,18.9 299.6,18.9 299.6,17.1 305.5,17.1 305.5,15.2 306.1,15.2 306.1,13.3 312.8,13.3 312.8,11.5 313.1,11.5 313.1,9.6 327.5,9.6 327.5,7.7 330.4,7.7 330.4,5.9 334.9,5.9 334.9,4.0 349.5,4.0" fill="none" stroke="#77AC30" stroke-opacity="0.6" stroke-width="0.65"/>
<path d="M38.9,227.9 30.0,227.9 30.0,226.0 88.0,226.0 88.0,224.2 97.0,224.2 97.0,222.3 101.8,222.3 101.8,220.4 116.9,220.4 116.9,218.6 118.4,218.6 118.4,216.7 120.1,216.7 120.1,214.8 123.5,214.8 123.5,213.0 124.3,213.0 124.3,211.1 131.5,211.1 131.5,209.2 141.2,209.2 141.2,207.4 144.9,207.4 144.9,205.5 145.5,205.5 145.5,203.6 146.8,203.6 146.8,201.8 147.3,201.8 147.3,199.9 148.1,199.9 148.1,198.0 148.8,198.0 148.8,196.2 148.9,196.2 148.9,194.3 150.6,194.3 150.6,192.4 154.3,192.4 154.3,190.6 159.5,190.6 159.5,188.7 159.8,188.7 159.8,186.9 162.0,186.9 162.0,185.0 166.5,185.0 166.5,183.1 166.8,183.1 166.8,181.3 168.2,181.3 168.2,179.4 169.0,179.4 169.0,177.5 173.2,177.5 173.2,175.7 173.4,175.7 173.4,173.8 174.6,173.8 174.6,171.9 174.8,171.9 174.8,170.1 175.2,170.1 175.2,168.2 176.9,168.2 176.9,166.3 177.6,166.3 177.6,164.5 177.8,164.5 177.8,162.6 181.8,162.6 181.8,160.7 182.0,160.7 182.0,158.9 182.0,158.9 182.0,157.0 183.2,157.0 183.2,155.1 188.0,155.1 188.0,153.3 189.1,153.3 189.1,151.4 192.8,151.4 192.8,149.5 195.2,149.5 195.2,147.7 196.0,147.7 196.0,145.8 196.3,145.8 196.3,143.9 197.4,143.9 197.4,142.1 198.5,142.1 198.5,140.2 199.3,140.2 199.3,138.3 200.9,138.3 200.9,136.5 203.1,136.5 203.1,134.6 205.3,134.6 205.3,132.7 206.5,132.7 206.5,130.9 207.4,130.9 207.4,129.0 207.8,129.0 207.8,127.1 209.5,127.1 209.5,125.3 210.4,125.3 210.4,123.4 210.9,123.4 210.9,121.5 212.8,121.5 212.8,119.7 213.9,119.7 213.9,117.8 214.3,117.8 214.3,116.0 214.4,116.0 214.4,114.1 215.3,114.1 215.3,112.2 219.3,112.2 219.3,110.4 221.4,110.4 221.4,108.5 221.9,108.5 221.9,106.6 223.1,106.6 223.1,104.8 225.1,104.8 225.1,102.9 225.6,102.9 225.6,101.0 225.7,101.0 225.7,99.2 226.5,99.2 226.5,97.3 228.2,97.3 228.2,95.4 230.5,95.4 230.5,93.6 230.6,93.6 230.6,91.7 231.1,91.7 231.1,89.8 232.0,89.8 232.0,88.0 233.1,88.0 233.1,86.1 234.5,86.1 234.5,84.2 236.7,84.2 236.7,82.4 237.4,82.4 237.4,80.5 239.7,80.5 239.7,78.6 239.9,78.6 239.9,76.8 240.1,76.8 240.1,74.9 240.8,74.9 240.8,73.0 245.4,73.0 245.4,71.2 246.3,71.2 246.3,69.3 246.9,69.3 246.9,67.4 247.7,67.4 247.7,65.6 248.6,65.6 248.6,63.7 249.0,63.7 249.0,61.8 251.8,61.8 251.8,60.0 252.9,60.0 252.9,58.1 254.5,58.1 254.5,56.2 255.7,56.2 255.7,54.4 256.9,54.4 256.9,52.5 259.8,52.5 259.8,50.6 260.2,50.6 260.2,48.8 260.9,48.8 260.9,46.9 261.3,46.9 261.3,45.0 264.3,45.0 264.3,43.2 264.9,43.2 264.9,41.3 268.4,41.3 268.4,39.5 268.7,39.5 268.7,37.6 269.2,37.6 269.2,35.7 272.7,35.7 272.7,33.9 275.4,33.9 275.4,32.0 275.5,32.0 275.5,30.1 280.6,30.1 280.6,28.3 282.6,28.3 282.6,26.4 283.7,26.4 283.7,24.5 290.0,24.5 290.0,22.7 290.7,22.7 290.7,20.8 296.3,20.8 296.3,18.9 297.2,18.9 297.2,17.1 298.6,17.1 298.6,15.2 302.5,15.2 302.5,13.3 307.4,13.3 307.4,11.5 309.8,11.5 309.8,9.6 314.7,9.6 314.7,7.7 320.8,7.7 320.8,5.9 347.8,5.9 347.8,4.0 349.5,4.0" fill="none" stroke="#0072BD" stroke-opacity="0.6" stroke-width="0.65"/>
<path d="M30.9,227.9 33.3,227.9 35.7,227.8 38.1,227.8 40.5,227.8 42.9,227.8 45.3,227.8 47.7,227.8 50.1,227.7 52.4,227.7 54.8,227.7 57.1,227.6 59.5,227.6 61.9,227.5 64.2,227.5 66.5,227.4 68.9,227.3 71.2,227.2 73.5,227.1 75.9,227.0 78.2,226.9 80.5,226.7 82.9,226.5 85.2,226.3 87.5,226.1 89.9,225.8 92.2,225.5 94.5,225.2 96.9,224.8 99.2,224.4 101.6,223.9 104.0,223.4 106.4,222.8 108.8,222.2 111.3,221.5 113.7,220.7 116.2,219.9 118.8,218.9 121.3,217.9 123.9,216.8 126.5,215.6 129.2,214.3 131.8,212.9 134.5,211.4 137.3,209.8 140.0,208.1 142.8,206.2 145.5,204.2 148.3,202.1 151.1,199.9 153.9,197.5 156.7,195.0 159.5,192.4 162.3,189.6 165.2,186.7 168.0,183.6 170.8,180.5 173.6,177.2 176.4,173.7 179.2,170.2 182.0,166.5 184.8,162.7 187.6,158.8 190.4,154.8 193.2,150.7 196.0,146.6 198.8,142.4 201.6,138.1 204.4,133.7 207.1,129.3 209.9,124.9 212.7,120.4 215.4,116.0 218.2,111.5 221.0,107.0 223.7,102.6 226.5,98.2 229.3,93.8 232.0,89.5 234.8,85.3 237.6,81.2 240.3,77.1 243.1,73.1 245.9,69.2 248.7,65.4 251.5,61.7 254.3,58.2 257.1,54.7 259.9,51.4 262.7,48.3 265.5,45.2 268.3,42.3 271.1,39.5 273.9,36.9 276.6,34.4 279.4,32.0 282.1,29.8 284.8,27.7 287.4,25.7 290.1,23.8 292.6,22.1 295.2,20.5 297.6,19.0 300.1,17.6 302.4,16.3 304.7,15.1 307.0,14.0 309.2,13.0 311.3,12.0 313.4,11.2 315.4,10.4 317.3,9.7 319.2,9.1 321.1,8.5 322.8,8.0 324.6,7.5 326.2,7.1 327.9,6.7 329.5,6.4 331.1,6.1 332.6,5.8 334.1,5.6 335.6,5.4 337.1,5.2 338.5,5.0 340.0,4.9 341.4,4.8 342.8,4.7 344.2,4.6 345.6,4.5 347.0,4.4 348.4,4.4 349.8,4.3 351.2,4.3 352.5,4.2 353.9,4.2 355.2,4.2 356.6,4.1 357.9,4.1 359.3,4.1 360.6,4.1 361.9,4.1 363.2,4.1 364.5,4.0 365.9,4.0" fill="none" stroke="#77AC30" stroke-width="0.98"/>
<path d="M28.5,227.9 30.9,227.9 33.3,227.8 35.7,227.8 38.1,227.8 40.5,227.8 42.9,227.8 45.3,227.8 47.6,227.7 50.0,227.7 52.4,227.7 54.7,227.6 57.1,227.6 59.5,227.5 61.8,227.5 64.1,227.4 66.5,227.3 68.8,227.2 71.1,227.1 73.5,227.0 75.8,226.9 78.1,226.7 80.4,226.5 82.8,226.3 85.1,226.1 87.4,225.8 89.7,225.5 92.1,225.2 94.4,224.8 96.8,224.4 99.1,223.9 101.5,223.4 103.9,222.8 106.4,222.2 108.8,221.5 111.3,220.7 113.8,219.9 116.4,218.9 118.9,217.9 121.5,216.8 124.2,215.6 126.9,214.3 129.6,212.9 132.3,211.4 135.1,209.8 137.9,208.1 140.7,206.2 143.5,204.2 146.3,202.1 149.2,199.9 152.0,197.5 154.9,195.0 157.8,192.4 160.6,189.6 163.5,186.7 166.4,183.6 169.2,180.5 172.1,177.2 175.0,173.7 177.8,170.2 180.7,166.5 183.5,162.7 186.4,158.8 189.2,154.8 192.1,150.7 194.9,146.6 197.7,142.4 200.6,138.1 203.4,133.7 206.2,129.3 209.0,124.9 211.8,120.4 214.6,116.0 217.4,111.5 220.2,107.0 223.0,102.6 225.8,98.2 228.6,93.8 231.4,89.5 234.2,85.3 237.0,81.2 239.8,77.1 242.7,73.1 245.5,69.2 248.3,65.4 251.1,61.7 253.9,58.2 256.8,54.7 259.6,51.4 262.4,48.3 265.3,45.2 268.1,42.3 270.9,39.5 273.7,36.9 276.5,34.4 279.2,32.0 282.0,29.8 284.7,27.7 287.3,25.7 290.0,23.8 292.6,22.1 295.1,20.5 297.6,19.0 300.0,17.6 302.4,16.3 304.7,15.1 307.0,14.0 309.2,13.0 311.3,12.0 313.4,11.2 315.4,10.4 317.3,9.7 319.2,9.1 321.1,8.5 322.8,8.0 324.6,7.5 326.2,7.1 327.9,6.7 329.5,6.4 331.0,6.1 332.6,5.8 334.1,5.6 335.6,5.4 337.0,5.2 338.5,5.0 339.9,4.9 341.3,4.8 342.7,4.7 344.1,4.6 345.5,4.5 346.9,4.4 348.2,4.4 349.6,4.3 351.0,4.3 352.3,4.2 353.6,4.2 355.0,4.2 356.3,4.1 357.6,4.1 358.9,4.1 360.2,4.1 361.5,4.1 362.8,4.1 364.1,4.0 365.3,4.0" fill="none" stroke="#0072BD" stroke-width="0.98"/>
<path d="M15.8,227.9 18.3,227.9 20.7,227.8 23.2,227.8 25.6,227.8 28.0,227.8 30.4,227.8 32.8,227.8 35.2,227.7 37.6,227.7 40.0,227.7 42.3,227.6 44.7,227.6 47.1,227.5 49.4,227.5 51.8,227.4 54.1,227.3 56.4,227.2 58.7,227.1 61.1,227.0 63.4,226.9 65.7,226.7 68.0,226.5 70.3,226.3 72.6,226.1 74.9,225.8 77.1,225.5 79.4,225.2 81.7,224.8 84.0,224.4 86.3,223.9 88.6,223.4 91.0,222.8 93.3,222.2 95.7,221.5 98.1,220.7 100.5,219.9 102.9,218.9 105.3,217.9 107.8,216.8 110.3,215.6 112.9,214.3 115.5,212.9 118.1,211.4 120.7,209.8 123.4,208.1 126.1,206.2 128.8,204.2 131.5,202.1 134.3,199.9 137.0,197.5 139.8,195.0 142.6,192.4 145.3,189.6 148.1,186.7 150.9,183.6 153.7,180.5 156.4,177.2 159.2,173.7 162.0,170.2 164.7,166.5 167.5,162.7 170.3,158.8 173.0,154.8 175.7,150.7 178.5,146.6 181.2,142.4 183.9,138.1 186.6,133.7 189.3,129.3 192.0,124.9 194.7,120.4 197.4,116.0 200.1,111.5 202.7,107.0 205.4,102.6 208.1,98.2 210.7,93.8 213.3,89.5 216.0,85.3 218.6,81.2 221.2,77.1 223.8,73.1 226.4,69.2 228.9,65.4 231.5,61.7 234.1,58.2 236.6,54.7 239.2,51.4 241.7,48.3 244.2,45.2 246.7,42.3 249.2,39.5 251.7,36.9 254.2,34.4 256.6,32.0 259.0,29.8 261.4,27.7 263.8,25.7 266.2,23.8 268.6,22.1 270.9,20.5 273.2,19.0 275.5,17.6 277.7,16.3 280.0,15.1 282.2,14.0 284.4,13.0 286.5,12.0 288.7,11.2 290.8,10.4 292.9,9.7 295.0,9.1 297.1,8.5 299.2,8.0 301.3,7.5 303.3,7.1 305.4,6.7 307.4,6.4 309.4,6.1 311.4,5.8 313.4,5.6 315.4,5.4 317.4,5.2 319.4,5.0 321.4,4.9 323.3,4.8 325.3,4.7 327.2,4.6 329.1,4.5 331.1,4.4 333.0,4.4 334.9,4.3 336.8,4.3 338.7,4.2 340.6,4.2 342.4,4.2 344.3,4.1 346.2,4.1 348.0,4.1 349.9,4.1 351.7,4.1 353.5,4.1 355.3,4.0 357.2,4.0" fill="none" stroke="#7E2F8E" stroke-width="0.98"/>
<path d="M22.7,227.9 25.0,227.9 27.2,227.8 29.4,227.8 31.7,227.8 33.9,227.8 36.2,227.8 38.4,227.8 40.6,227.7 42.9,227.7 45.1,227.7 47.3,227.6 49.5,227.6 51.8,227.5 54.0,227.5 56.2,227.4 58.4,227.3 60.7,227.2 62.9,227.1 65.1,227.0 67.3,226.9 69.5,226.7 71.8,226.5 74.0,226.3 76.3,226.1 78.5,225.8 80.8,225.5 83.0,225.2 85.3,224.8 87.6,224.4 89.9,223.9 92.3,223.4 94.6,222.8 97.0,222.2 99.4,221.5 101.8,220.7 104.3,219.9 106.8,218.9 109.2,217.9 111.7,216.8 114.3,215.6 116.8,214.3 119.4,212.9 121.9,211.4 124.5,209.8 127.1,208.1 129.7,206.2 132.3,204.2 134.9,202.1 137.5,199.9 140.1,197.5 142.7,195.0 145.3,192.4 147.9,189.6 150.5,186.7 153.1,183.6 155.7,180.5 158.3,177.2 160.9,173.7 163.5,170.2 166.0,166.5 168.6,162.7 171.2,158.8 173.8,154.8 176.4,150.7 179.0,146.6 181.6,142.4 184.1,138.1 186.7,133.7 189.3,129.3 191.9,124.9 194.4,120.4 197.0,116.0 199.6,111.5 202.1,107.0 204.7,102.6 207.2,98.2 209.8,93.8 212.3,89.5 214.9,85.3 217.4,81.2 219.9,77.1 222.5,73.1 225.0,69.2 227.5,65.4 230.0,61.7 232.6,58.2 235.1,54.7 237.6,51.4 240.1,48.3 242.5,45.2 245.0,42.3 247.5,39.5 249.9,36.9 252.4,34.4 254.8,32.0 257.2,29.8 259.5,27.7 261.9,25.7 264.2,23.8 266.5,22.1 268.8,20.5 271.1,19.0 273.3,17.6 275.5,16.3 277.7,15.1 279.8,14.0 281.9,13.0 284.0,12.0 286.1,11.2 288.2,10.4 290.2,9.7 292.2,9.1 294.3,8.5 296.3,8.0 298.3,7.5 300.2,7.1 302.2,6.7 304.2,6.4 306.2,6.1 308.1,5.8 310.1,5.6 312.0,5.4 314.0,5.2 315.9,5.0 317.8,4.9 319.8,4.8 321.7,4.7 323.6,4.6 325.6,4.5 327.5,4.4 329.4,4.4 331.3,4.3 333.2,4.3 335.1,4.2 337.0,4.2 338.9,4.2 340.8,4.1 342.7,4.1 344.6,4.1 346.5,4.1 348.4,4.1 350.3,4.1 352.2,4.0 354.1,4.0" fill="none" stroke="#EDB120" stroke-width="0.98"/>
<path d="M34.5,227.9 37.1,227.9 39.7,227.8 42.4,227.8 45.0,227.8 47.6,227.8 50.3,227.8 52.9,227.8 55.5,227.7 58.2,227.7 60.8,227.7 63.4,227.6 66.0,227.6 68.7,227.5 71.3,227.5 73.9,227.4 76.5,227.3 79.2,227.2 81.8,227.1 84.4,227.0 87.0,226.9 89.6,226.7 92.2,226.5 94.8,226.3 97.5,226.1 100.1,225.8 102.7,225.5 105.3,225.2 107.9,224.8 110.5,224.4 113.1,223.9 115.7,223.4 118.3,222.8 120.9,222.2 123.5,221.5 126.1,220.7 128.7,219.9 131.3,218.9 133.9,217.9 136.5,216.8 139.1,215.6 141.6,214.3 144.2,212.9 146.8,211.4 149.4,209.8 152.0,208.1 154.6,206.2 157.2,204.2 159.7,202.1 162.3,199.9 164.9,197.5 167.5,195.0 170.0,192.4 172.6,189.6 175.2,186.7 177.8,183.6 180.3,180.5 182.9,177.2 185.5,173.7 188.0,170.2 190.6,166.5 193.2,162.7 195.7,158.8 198.3,154.8 200.9,150.7 203.4,146.6 206.0,142.4 208.5,138.1 211.1,133.7 213.7,129.3 216.2,124.9 218.8,120.4 221.3,116.0 223.9,111.5 226.4,107.0 229.0,102.6 231.6,98.2 234.1,93.8 236.7,89.5 239.3,85.3 241.9,81.2 244.5,77.1 247.1,73.1 249.7,69.2 252.3,65.4 254.9,61.7 257.5,58.2 260.1,54.7 262.8,51.4 265.4,48.3 268.0,45.2 270.7,42.3 273.3,39.5 275.9,36.9 278.5,34.4 281.1,32.0 283.7,29.8 286.3,27.7 288.8,25.7 291.3,23.8 293.8,22.1 296.2,20.5 298.6,19.0 300.9,17.6 303.3,16.3 305.5,15.1 307.7,14.0 309.9,13.0 312.0,12.0 314.1,11.2 316.1,10.4 318.0,9.7 319.9,9.1 321.8,8.5 323.6,8.0 325.4,7.5 327.1,7.1 328.8,6.7 330.4,6.4 332.1,6.1 333.7,5.8 335.3,5.6 336.8,5.4 338.4,5.2 339.9,5.0 341.4,4.9 343.0,4.8 344.5,4.7 346.0,4.6 347.5,4.5 349.0,4.4 350.5,4.4 352.0,4.3 353.5,4.3 354.9,4.2 356.4,4.2 357.9,4.2 359.4,4.1 360.9,4.1 362.3,4.1 363.8,4.1 365.3,4.1 366.7,4.1 368.2,4.0 369.7,4.0" fill="none" stroke="#D95319" stroke-width="0.98"/>
</g>
<g stroke="#4d4d4d" stroke-width="1.1" fill="none">
<path d="M38.9,4.0 V227.9 H349.5 V4.0 Z"/>
<path d="M38.9,227.9 h3.6 M349.5,227.9 h-3.6 M38.9,183.1 h3.6 M349.5,183.1 h-3.6 M38.9,138.3 h3.6 M349.5,138.3 h-3.6 M38.9,93.6 h3.6 M349.5,93.6 h-3.6 M38.9,48.8 h3.6 M349.5,48.8 h-3.6 M38.9,4.0 h3.6 M349.5,4.0 h-3.6 M38.9,227.9 v-2.0 M38.9,4.0 v2.0 M45.0,227.9 v-2.0 M45.0,4.0 v2.0 M50.2,227.9 v-2.0 M50.2,4.0 v2.0 M54.7,227.9 v-2.0 M54.7,4.0 v2.0 M58.7,227.9 v-2.0 M58.7,4.0 v2.0 M62.3,227.9 v-3.4 M62.3,4.0 v3.4 M85.6,227.9 v-2.0 M85.6,4.0 v2.0 M99.3,227.9 v-2.0 M99.3,4.0 v2.0 M109.0,227.9 v-2.0 M109.0,4.0 v2.0 M116.6,227.9 v-2.0 M116.6,4.0 v2.0 M122.7,227.9 v-2.0 M122.7,4.0 v2.0 M127.9,227.9 v-2.0 M127.9,4.0 v2.0 M132.4,227.9 v-2.0 M132.4,4.0 v2.0 M136.4,227.9 v-2.0 M136.4,4.0 v2.0 M139.9,227.9 v-3.4 M139.9,4.0 v3.4 M163.3,227.9 v-2.0 M163.3,4.0 v2.0 M177.0,227.9 v-2.0 M177.0,4.0 v2.0 M186.7,227.9 v-2.0 M186.7,4.0 v2.0 M194.2,227.9 v-2.0 M194.2,4.0 v2.0 M200.3,227.9 v-2.0 M200.3,4.0 v2.0 M205.5,227.9 v-2.0 M205.5,4.0 v2.0 M210.0,227.9 v-2.0 M210.0,4.0 v2.0 M214.0,227.9 v-2.0 M214.0,4.0 v2.0 M217.6,227.9 v-3.4 M217.6,4.0 v3.4 M240.9,227.9 v-2.0 M240.9,4.0 v2.0 M254.6,227.9 v-2.0 M254.6,4.0 v2.0 M264.3,227.9 v-2.0 M264.3,4.0 v2.0 M271.9,227.9 v-2.0 M271.9,4.0 v2.0 M278.0,227.9 v-2.0 M278.0,4.0 v2.0 M283.2,227.9 v-2.0 M283.2,4.0 v2.0 M287.7,227.9 v-2.0 M287.7,4.0 v2.0 M291.7,227.9 v-2.0 M291.7,4.0 v2.0 M295.2,227.9 v-3.4 M295.2,4.0 v3.4 M318.6,227.9 v-2.0 M318.6,4.0 v2.0 M332.3,227.9 v-2.0 M332.3,4.0 v2.0 M342.0,227.9 v-2.0 M342.0,4.0 v2.0 M349.5,227.9 v-2.0 M349.5,4.0 v2.0" stroke-width="0.8"/>
</g>
<g font-family="'Liberation Sans', Arial, sans-serif" font-size="11.5" fill="#1a1a1a">
<text x="34.5" y="232.9" text-anchor="end" letter-spacing="0.3">0</text>
<text x="34.5" y="188.1" text-anchor="end" letter-spacing="0.3">0.2</text>
<text x="34.5" y="143.3" text-anchor="end" letter-spacing="0.3">0.4</text>
<text x="34.5" y="98.6" text-anchor="end" letter-spacing="0.3">0.6</text>
<text x="34.5" y="53.8" text-anchor="end" letter-spacing="0.3">0.8</text>
<text x="34.5" y="9.0" text-anchor="end" letter-spacing="0.3">1</text>
<text x="62.3" y="248" text-anchor="middle">10<tspan font-size="9.5" dy="-5.2">-2</tspan></text>
<text x="139.9" y="248" text-anchor="middle">10<tspan font-size="9.5" dy="-5.2">-1</tspan></text>
<text x="217.6" y="248" text-anchor="middle">10<tspan font-size="9.5" dy="-5.2">0</tspan></text>
<text x="295.2" y="248" text-anchor="middle">10<tspan font-size="9.5" dy="-5.2">1</tspan></text>
</g>
<g font-family="'Liberation Serif', 'Times New Roman', serif" fill="#000">
<text transform="translate(10.2,115.4) rotate(-90)" text-anchor="middle" font-size="14.4">CDF</text>
<text x="188.6" y="262.6" font-size="13" font-style="italic">χ</text><text x="196.2" y="257.6" font-size="8.5">2</text><text x="195.6" y="265.6" font-size="8.5" font-style="italic">r</text>
<path d="M52,30.7 H88" stroke="#0072BD" stroke-width="0.95" stroke-opacity="0.85"/>
<text x="90.6" y="26.3" font-size="10.3" letter-spacing="0.29" word-spacing="1" stroke="#000" stroke-width="0.1">fermionic model (50 keV)</text>
<text x="90.5" y="39.6" font-size="10.5" font-style="italic">χ</text>
<text x="93.5" y="40.1" font-size="10" text-anchor="middle">ˆ</text>
<text x="95.7" y="35.7" font-size="7">2</text>
<text x="95.3" y="41.0" font-size="7" font-style="italic">r</text>
<text x="103.8" y="42.0" font-size="12">=</text>
<text x="114.3" y="39.6" font-size="10" letter-spacing="0.4" stroke="#000" stroke-width="0.08">0.89</text>
<path d="M52,61.0 H88" stroke="#77AC30" stroke-width="0.95" stroke-opacity="0.85"/>
<text x="90.6" y="56.6" font-size="10.3" letter-spacing="0.5" word-spacing="1" stroke="#000" stroke-width="0.1">Burkert</text>
<text x="90.5" y="69.9" font-size="10.5" font-style="italic">χ</text>
<text x="93.5" y="70.4" font-size="10" text-anchor="middle">ˆ</text>
<text x="95.7" y="66.0" font-size="7">2</text>
<text x="95.3" y="71.3" font-size="7" font-style="italic">r</text>
<text x="103.8" y="72.3" font-size="12">=</text>
<text x="114.3" y="69.9" font-size="10" letter-spacing="0.4" stroke="#000" stroke-width="0.08">0.90</text>
<path d="M52,91.3 H88" stroke="#7E2F8E" stroke-width="0.95" stroke-opacity="0.85"/>
<text x="90.6" y="86.9" font-size="10.3" letter-spacing="0.5" word-spacing="1" stroke="#000" stroke-width="0.1">Einasto</text>
<text x="90.5" y="100.2" font-size="10.5" font-style="italic">χ</text>
<text x="93.5" y="100.7" font-size="10" text-anchor="middle">ˆ</text>
<text x="95.7" y="96.3" font-size="7">2</text>
<text x="95.3" y="101.6" font-size="7" font-style="italic">r</text>
<text x="103.8" y="102.6" font-size="12">=</text>
<text x="114.3" y="100.2" font-size="10" letter-spacing="0.4" stroke="#000" stroke-width="0.08">0.52</text>
<path d="M52,121.6 H88" stroke="#EDB120" stroke-width="0.95" stroke-opacity="0.85"/>
<text x="90.6" y="117.2" font-size="10.3" letter-spacing="0.5" word-spacing="1" stroke="#000" stroke-width="0.1">DC14</text>
<text x="90.5" y="130.5" font-size="10.5" font-style="italic">χ</text>
<text x="93.5" y="131.0" font-size="10" text-anchor="middle">ˆ</text>
<text x="95.7" y="126.6" font-size="7">2</text>
<text x="95.3" y="131.9" font-size="7" font-style="italic">r</text>
<text x="103.8" y="132.9" font-size="12">=</text>
<text x="114.3" y="130.5" font-size="10" letter-spacing="0.4" stroke="#000" stroke-width="0.08">0.53</text>
<path d="M52,151.9 H88" stroke="#D95319" stroke-width="0.95" stroke-opacity="0.85"/>
<text x="90.6" y="147.5" font-size="10.3" letter-spacing="0.5" word-spacing="1" stroke="#000" stroke-width="0.1">NFW</text>
<text x="90.5" y="160.8" font-size="10.5" font-style="italic">χ</text>
<text x="93.5" y="161.3" font-size="10" text-anchor="middle">ˆ</text>
<text x="95.7" y="156.9" font-size="7">2</text>
<text x="95.3" y="162.2" font-size="7" font-style="italic">r</text>
<text x="103.8" y="163.2" font-size="12">=</text>
<text x="114.3" y="160.8" font-size="10" letter-spacing="0.4" stroke="#000" stroke-width="0.08">1.09</text>
</g>
</svg>
</body></html>
